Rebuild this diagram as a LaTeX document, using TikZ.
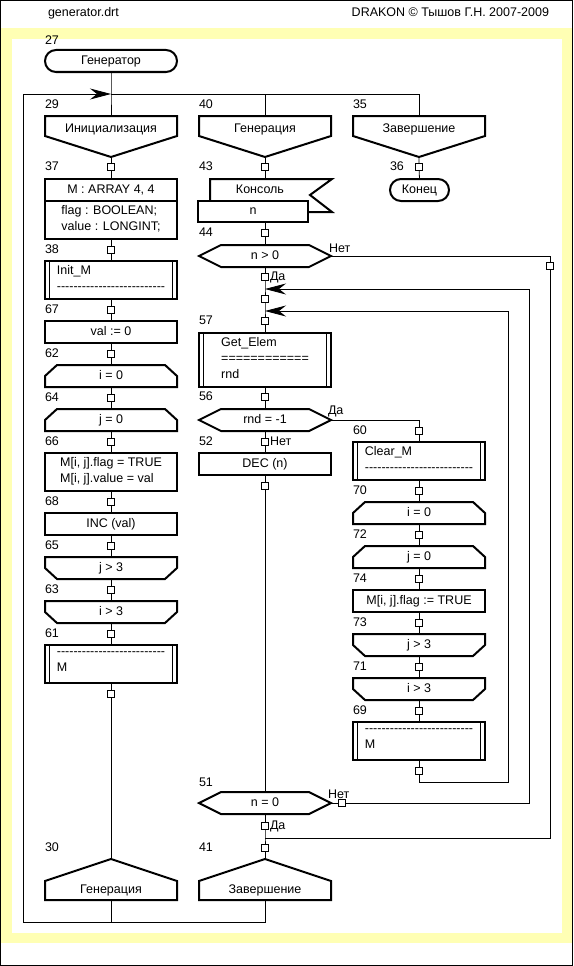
\documentclass[tikz,border=0pt]{standalone}
\usepackage{fontspec}
\setmainfont{Liberation Sans}
\usetikzlibrary{arrows.meta,shapes.misc}

\definecolor{band}{HTML}{FFFFB4}
\newcommand\dashrow{\foreach \k in {1,...,26}{-\kern0pt}}

\tikzset{
  every node/.style={font=\fontsize{12.5}{16}\selectfont, inner sep=0pt, outer sep=0pt},
  txt/.style={execute at begin node=\strut, execute at end node=\strut},
  num/.style={txt, anchor=west},
  yesno/.style={txt, anchor=west},
  conn/.style={draw, fill=white, line width=0.7pt, minimum size=6.5pt},
  icon/.style={txt, minimum width=132pt, minimum height=22pt, align=left},
  action/.style={icon, draw, line width=2pt},
  terminal/.style={icon, draw, line width=2pt, rounded rectangle},
  subproc/.style={action, append after command={\pgfextra{
    \draw[line width=1.4pt] ([xshift=4.5pt]\tikzlastnode.north west) -- ([xshift=4.5pt]\tikzlastnode.south west)
      ([xshift=-4.5pt]\tikzlastnode.north east) -- ([xshift=-4.5pt]\tikzlastnode.south east);}}},
  loopbegin/.style={icon, append after command={\pgfextra{
    \draw[line width=2pt] ([yshift=-11pt]\tikzlastnode.north west) -- ([xshift=12pt]\tikzlastnode.north west)
      -- ([xshift=-12pt]\tikzlastnode.north east) -- ([yshift=-11pt]\tikzlastnode.north east)
      -- (\tikzlastnode.south east) -- (\tikzlastnode.south west) -- cycle;}}},
  loopend/.style={icon, append after command={\pgfextra{
    \draw[line width=2pt] (\tikzlastnode.north west) -- (\tikzlastnode.north east)
      -- ([yshift=11pt]\tikzlastnode.south east) -- ([xshift=-12pt]\tikzlastnode.south east)
      -- ([xshift=12pt]\tikzlastnode.south west) -- ([yshift=11pt]\tikzlastnode.south west) -- cycle;}}},
  question/.style={icon, append after command={\pgfextra{
    \draw[line width=2pt] (\tikzlastnode.west) -- ([xshift=22pt]\tikzlastnode.north west)
      -- ([xshift=-22pt]\tikzlastnode.north east) -- (\tikzlastnode.east)
      -- ([xshift=-22pt]\tikzlastnode.south east) -- ([xshift=22pt]\tikzlastnode.south west) -- cycle;}}},
  branch/.style={icon, minimum height=41pt, text height=9pt, text depth=17.4pt, append after command={\pgfextra{
    \draw[line width=2pt] (\tikzlastnode.north west) -- (\tikzlastnode.north east)
      -- ([yshift=21pt]\tikzlastnode.south east) -- (\tikzlastnode.south)
      -- ([yshift=21pt]\tikzlastnode.south west) -- cycle;}}},
  address/.style={icon, minimum height=41pt, text height=28pt, text depth=0.4pt, append after command={\pgfextra{
    \draw[line width=2pt] (\tikzlastnode.north) -- ([yshift=-22pt]\tikzlastnode.north east)
      -- (\tikzlastnode.south east) -- (\tikzlastnode.south west)
      -- ([yshift=-22pt]\tikzlastnode.north west) -- cycle;}}},
  output/.style={icon, minimum width=100pt, append after command={\pgfextra{
    \draw[line width=2pt] (\tikzlastnode.south west) -- (\tikzlastnode.north west)
      -- ([xshift=22pt]\tikzlastnode.north east) -- ([yshift=-16pt]\tikzlastnode.north east)
      -- ([xshift=22pt,yshift=-33pt]\tikzlastnode.north east)
      -- ([xshift=-2pt,yshift=-33pt]\tikzlastnode.north east);}}},
  >={Stealth[length=21pt,width=11pt,inset=7pt]}
}

\begin{document}
\begin{tikzpicture}[x=1pt,y=-1pt,line width=0.8pt]
  % frame
  \fill[white] (0,0) rectangle (573,966);
  \fill[band] (0,28) rectangle (573,943);
  \fill[white] (12,39) rectangle (562,933);
  \draw (0.5,0.5) rectangle (572.5,965.5);
  \node[num] (file) at (48,13) {generator.drt};
  \node[txt,anchor=east] (copy) at (549,13) {DRAKON © Тышов Г.Н. 2007-2009};

  % column 1
  \node[terminal] (s27) at (111,61) {Генератор};
  \node[num] (l27) at (45,41) {27};
  \coordinate (top0) at (23,94);
  \coordinate (top1) at (111,94);
  \coordinate (top2) at (265,94);
  \coordinate (top3) at (419,94);
  \node[branch] (s29) at (111,136.5) {Инициализация};
  \node[num] (l29) at (45,105) {29};
  \node[conn] (q37) at (111,167) {};
  \node[num] (l37) at (45,167) {37};
  \node[action] (s37a) at (111,190) {M : ARRAY 4, 4};
  \node[action, minimum height=38pt] (s37b) at (111,220) {flag : BOOLEAN;\\value : LONGINT;};
  \node[conn] (q38) at (111,250) {};
  \node[num] (l38) at (45,250) {38};
  \node[subproc, minimum height=38pt] (s38) at (111,280) {Init\_M\\\dashrow};
  \node[conn] (q67) at (111,310) {};
  \node[num] (l67) at (45,310) {67};
  \node[action] (s67) at (111,332) {val := 0};
  \node[conn] (q62) at (111,354) {};
  \node[num] (l62) at (45,354) {62};
  \node[loopbegin] (s62) at (111,376) {i = 0};
  \node[conn] (q64) at (111,398) {};
  \node[num] (l64) at (45,398) {64};
  \node[loopbegin] (s64) at (111,420) {j = 0};
  \node[conn] (q66) at (111,442) {};
  \node[num] (l66) at (45,442) {66};
  \node[action, minimum height=38pt] (s66) at (111,472) {M[i, j].flag = TRUE\\M[i, j].value = val};
  \node[conn] (q68) at (111,502) {};
  \node[num] (l68) at (45,502) {68};
  \node[action] (s68) at (111,524) {INC (val)};
  \node[conn] (q65) at (111,546) {};
  \node[num] (l65) at (45,546) {65};
  \node[loopend] (s65) at (111,568) {j > 3};
  \node[conn] (q63) at (111,590) {};
  \node[num] (l63) at (45,590) {63};
  \node[loopend] (s63) at (111,612) {i > 3};
  \node[conn] (q61) at (111,634) {};
  \node[num] (l61) at (45,634) {61};
  \node[subproc, minimum height=38pt] (s61) at (111,664) {\dashrow\\M};
  \node[conn] (q61b) at (111,694) {};
  \node[num] (l30) at (45,848) {30};
  \node[address] (s30) at (111,879.5) {Генерация};
  \coordinate (c30b) at (111,922);
  \coordinate (c0b) at (23,922);

  % column 2
  \node[branch] (s40) at (265,136.5) {Генерация};
  \node[num] (l40) at (199,105) {40};
  \node[conn] (q43) at (265,167) {};
  \node[num] (l43) at (199,167) {43};
  \node[output] (s43a) at (260,190) {Консоль};
  \node[action, minimum width=110pt, minimum height=21pt] (s43b) at (253,211.5) {n};
  \node[conn] (q44) at (265,233) {};
  \node[num] (l44) at (199,233) {44};
  \node[question] (s44) at (265,256) {n > 0};
  \node[yesno] (no44) at (329,249) {Нет};
  \coordinate (c44r) at (550,256);
  \node[conn] (q44n) at (550,266) {};
  \node[conn] (q44y) at (265,277) {};
  \node[yesno] (yes44) at (270,277) {Да};
  \coordinate (j289) at (265,289);
  \coordinate (c529t) at (529,289);
  \node[conn] (q57a) at (265,299) {};
  \coordinate (j311) at (265,311);
  \coordinate (c508t) at (508,311);
  \node[conn] (q57) at (265,321) {};
  \node[num] (l57) at (199,321) {57};
  \node[subproc, minimum height=54pt] (s57) at (265,360) {Get\_Elem\\============\\rnd};
  \node[conn] (q56) at (265,397) {};
  \node[num] (l56) at (199,397) {56};
  \node[question] (s56) at (265,420) {rnd = -1};
  \node[yesno] (yes56) at (328,411) {Да};
  \coordinate (c56r) at (419,420);
  \node[conn] (q52) at (265,442) {};
  \node[num] (l52) at (199,442) {52};
  \node[yesno] (no56) at (270,442) {Нет};
  \node[action] (s52) at (265,464) {DEC (n)};
  \node[conn] (q52b) at (265,486) {};
  \node[num] (l51) at (199,783) {51};
  \node[question] (s51) at (265,803) {n = 0};
  \node[yesno] (no51) at (328,795) {Нет};
  \node[conn] (q51n) at (342,803) {};
  \coordinate (c529b) at (529,803);
  \node[conn] (q51y) at (265,826) {};
  \node[yesno] (yes51) at (270,826) {Да};
  \coordinate (j838) at (265,838);
  \coordinate (c550b) at (550,838);
  \node[conn] (q41) at (265,848) {};
  \node[num] (l41) at (199,848) {41};
  \node[address] (s41) at (265,879.5) {Завершение};
  \coordinate (c41b) at (265,922);

  % column 3
  \node[branch] (s35) at (419,136.5) {Завершение};
  \node[num] (l35) at (353,105) {35};
  \node[conn] (q36) at (419,167) {};
  \node[num] (l36) at (390,167) {36};
  \node[terminal, minimum width=59pt] (s36) at (419.5,190) {Конец};
  \node[conn] (q60) at (419,431) {};
  \node[num] (l60) at (353,431) {60};
  \node[subproc, minimum height=38pt] (s60) at (419,461) {Clear\_M\\\dashrow};
  \node[conn] (q70) at (419,491) {};
  \node[num] (l70) at (353,491) {70};
  \node[loopbegin] (s70) at (419,513) {i = 0};
  \node[conn] (q72) at (419,535) {};
  \node[num] (l72) at (353,535) {72};
  \node[loopbegin] (s72) at (419,557) {j = 0};
  \node[conn] (q74) at (419,579) {};
  \node[num] (l74) at (353,579) {74};
  \node[action] (s74) at (419,601) {M[i, j].flag := TRUE};
  \node[conn] (q73) at (419,623) {};
  \node[num] (l73) at (353,623) {73};
  \node[loopend] (s73) at (419,645) {j > 3};
  \node[conn] (q71) at (419,667) {};
  \node[num] (l71) at (353,667) {71};
  \node[loopend] (s71) at (419,689) {i > 3};
  \node[conn] (q69) at (419,711) {};
  \node[num] (l69) at (353,711) {69};
  \node[subproc, minimum height=38pt] (s69) at (419,741) {\dashrow\\M};
  \node[conn] (q69b) at (419,771) {};
  \coordinate (c782) at (419,782);
  \coordinate (c508b) at (508,782);

  % lines
  \draw (s27.south) -- (top1) -- (s29.north);
  \draw (top1) -- (top3) -- (s35.north);
  \draw (top2) -- (s40.north);
  \foreach \a/\q/\b in {s29/q37/s37a, s37b/q38/s38, s38/q67/s67, s67/q62/s62, s62/q64/s64,
      s64/q66/s66, s66/q68/s68, s68/q65/s65, s65/q63/s63, s63/q61/s61, s61/q61b/s30,
      s57/q56/s56, s56/q52/s52, s52/q52b/s51, s35/q36/s36,
      s60/q70/s70, s70/q72/s72, s72/q74/s74, s74/q73/s73, s73/q71/s71, s71/q69/s69}
    \draw (\a.south) -- (\q) -- (\b.north);
  \draw (s40.south) -- (q43) -- (q43 |- s43a.north);
  \draw (s43b.south -| q44) -- (q44) -- (s44.north);
  \draw (s44.south) -- (q44y) -- (j289) -- (q57a) -- (j311) -- (q57) -- (s57.north);
  \draw (s51.south) -- (q51y) -- (j838) -- (q41) -- (s41.north);
  \draw (s44.east) -- (c44r) -- (q44n);
  \draw (q44n) -- (c550b) -- (j838);
  \draw (s51.east) -- (q51n);
  \draw[->] (q51n) -- (c529b) -- (c529t) -- (j289);
  \draw (s56.east) -- (c56r) -- (q60) -- (s60.north);
  \draw (s69.south) -- (q69b);
  \draw[->] (q69b) -- (c782) -- (c508b) -- (c508t) -- (j311);
  \draw (s41.south) -- (c41b) -- (c30b);
  \draw[->] (s30.south) -- (c30b) -- (c0b) -- (top0) -- (top1);
\end{tikzpicture}
\end{document}
